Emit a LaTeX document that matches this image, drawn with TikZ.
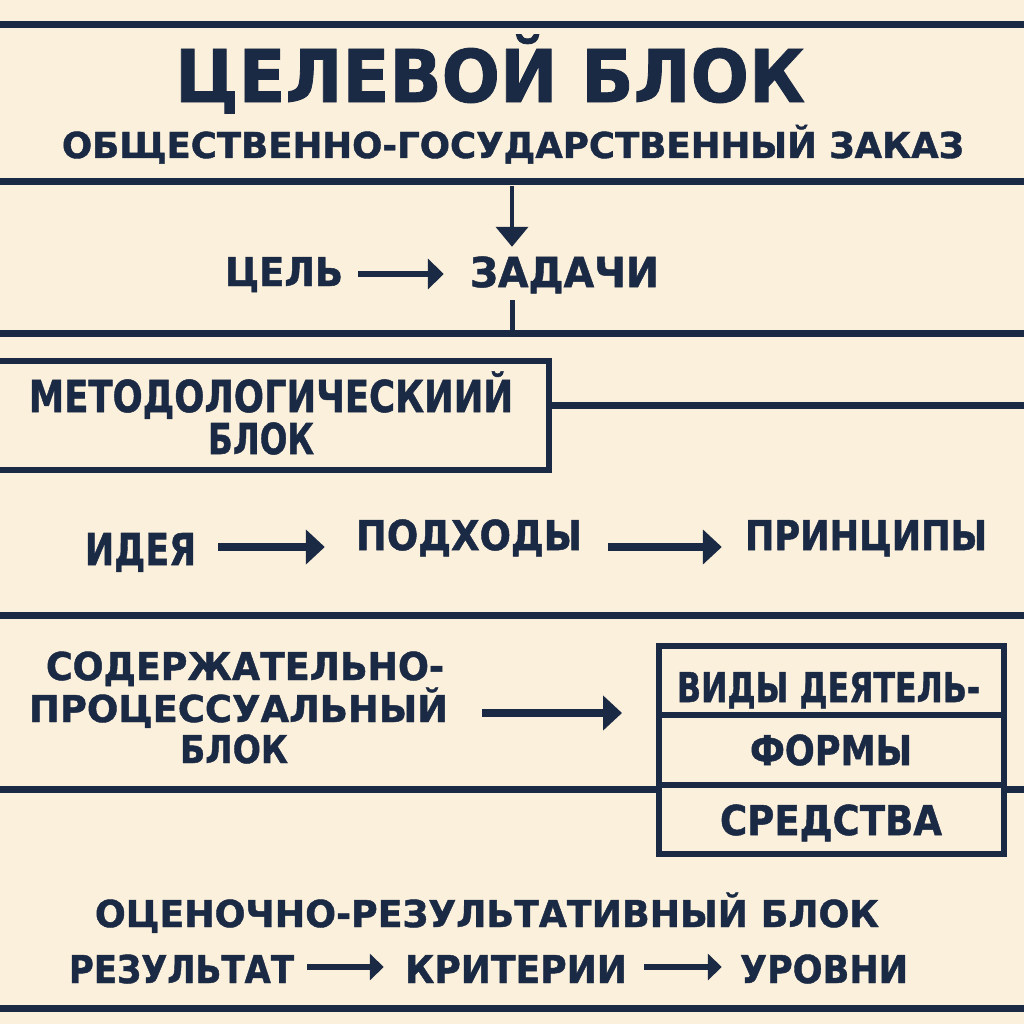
\documentclass[tikz,border=0pt]{standalone}
\usepackage{fontspec}
\setmainfont{DejaVu Sans}[BoldFont={DejaVu Sans Bold}, BoldFeatures={FakeBold=1.2}]
\usetikzlibrary{arrows.meta}
\definecolor{bg}{HTML}{FBF0DC}
\definecolor{ink}{HTML}{1B2A44}
\newcommand\fitt[3]{\resizebox{#1pt}{#2pt}{\bfseries\smash{#3}\vphantom{Н}}}
\tikzset{
  txt/.style={inner sep=0pt, text=ink},
  sepline/.style={line width=7pt, draw=ink},
  arrbig/.style={line width=8pt, draw=ink, -{Triangle[length=19pt,width=34pt]}},
  arrmid/.style={line width=6pt, draw=ink, -{Triangle[length=16pt,width=30pt]}},
  arrsmall/.style={line width=5.5pt, draw=ink, -{Triangle[length=14pt,width=26pt]}},
  arrdown/.style={line width=4pt, draw=ink, -{Triangle[length=20pt,width=32pt]}},
  boxst/.style={draw=ink, line width=6pt, inner sep=0pt},
}
\begin{document}
\begin{tikzpicture}[x=1pt,y=-1pt]
\useasboundingbox (0,0) rectangle (1024,1024);
\fill[bg] (0,0) rectangle (1024,1024);

% section lines
\draw[sepline] (0,25) -- (1024,25);
\draw[sepline] (0,181.5) -- (1024,181.5);
\draw[sepline] (0,333.5) -- (1024,333.5);
\draw[sepline] (0,615) -- (1024,615);
\draw[sepline] (0,1008) -- (1024,1008);

% target block
\node[txt] (title) at (490,75.5) {\fitt{630}{53}{ЦЕЛЕВОЙ БЛОК}};
\node[txt] (order) at (513,145) {\fitt{902}{26}{ОБЩЕСТВЕННО-ГОСУДАРСТВЕННЫЙ ЗАКАЗ}};
\node[txt] (goal) at (284,271.5) {\fitt{118}{29}{ЦЕЛЬ}};
\node[txt] (tasks) at (564.5,272) {\fitt{189}{30}{ЗАДАЧИ}};
\coordinate (d0) at (512,186);
\coordinate (d1) at (512,333);
\draw[arrdown, shorten >=10pt] (d0) -- (d0 |- tasks.north);
\draw[line width=5pt, draw=ink, shorten <=13pt] (d1 |- tasks.south) -- (d1);
\draw[arrmid, shorten <=15pt, shorten >=26pt] ([yshift=-2.5pt]goal.east) -- ([yshift=-2pt]tasks.west);

% methodological block
\node[boxst, minimum width=560pt, minimum height=109pt] (metbox) at (269,415.5) {};
\node[txt] (met1) at (271,396) {\fitt{484}{32}{МЕТОДОЛОГИЧЕСКИИЙ}};
\node[txt] (met2) at (261,438.5) {\fitt{106}{31}{БЛОК}};
\coordinate (mr) at (1030,405);
\draw[sepline] ([yshift=10.5pt]metbox.east) -- (mr);

\node[txt] (idea) at (140.5,549) {\fitt{111}{32}{ИДЕЯ}};
\node[txt] (appr) at (469,535) {\fitt{226}{30}{ПОДХОДЫ}};
\node[txt] (princ) at (866,535) {\fitt{242}{30}{ПРИНЦИПЫ}};
\draw[arrbig, shorten <=22pt, shorten >=31pt] ([yshift=2pt]idea.east) -- ([yshift=-12pt]appr.west);
\draw[arrbig, shorten <=26pt, shorten >=23pt] ([yshift=-12pt]appr.east) -- ([yshift=-12pt]princ.west);

% content-process block
\node[txt] (sod1) at (245,666) {\fitt{398}{28}{СОДЕРЖАТЕЛЬНО-}};
\node[txt] (sod2) at (238.5,708.5) {\fitt{419}{27}{ПРОЦЕССУАЛЬНЫЙ}};
\node[txt] (sod3) at (234,749) {\fitt{108}{28}{БЛОК}};
\node[boxst, minimum width=345pt, minimum height=69pt] (s1) at (831.5,680.5) {};
\node[boxst, minimum width=345pt, minimum height=70pt] (s2) at (831.5,750) {};
\node[boxst, minimum width=345pt, minimum height=69pt] (s3) at (831.5,819.5) {};
\node[txt] (vids) at (828.5,687) {\fitt{303}{30}{ВИДЫ ДЕЯТЕЛЬ-}};
\node[txt] (forms) at (831,750) {\fitt{162}{30}{ФОРМЫ}};
\node[txt] (means) at (831,820) {\fitt{222}{30}{СРЕДСТВА}};
\draw[arrbig, shorten <=34pt, shorten >=34pt] ([yshift=-4.5pt]sod2.east) -- ([yshift=37pt]s2.west);
\coordinate (ll) at (0,789);
\coordinate (rr) at (1030,789);
\draw[sepline] (ll) -- (ll -| s3.west);
\draw[sepline] (rr -| s3.east) -- (rr);

% evaluative block
\node[txt] (eval) at (487,913.5) {\fitt{784}{27}{ОЦЕНОЧНО-РЕЗУЛЬТАТИВНЫЙ БЛОК}};
\node[txt] (res) at (181.5,969) {\fitt{225}{28}{РЕЗУЛЬТАТ}};
\node[txt] (crit) at (516,969) {\fitt{222}{28}{КРИТЕРИИ}};
\node[txt] (lev) at (824,969) {\fitt{168}{28}{УРОВНИ}};
\draw[arrsmall, shorten <=13pt, shorten >=21pt] ([yshift=2pt]res.east) -- ([yshift=2pt]crit.west);
\draw[arrsmall, shorten <=17pt, shorten >=18pt] ([yshift=2pt]crit.east) -- ([yshift=2pt]lev.west);
\end{tikzpicture}
\end{document}
